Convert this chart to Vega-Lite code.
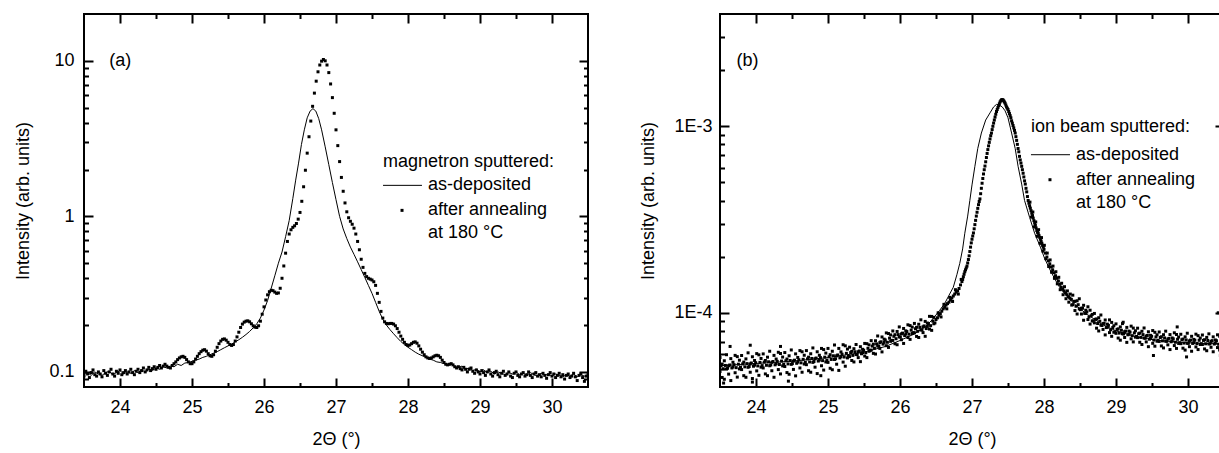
{
"$schema":"https://vega.github.io/schema/vega-lite/v6.json",
"background":"white",
"padding":{"left":13,"top":13,"right":0,"bottom":0},
"spacing":49,
"config":{
"font":"Liberation Sans",
"view":{"stroke":"black","strokeWidth":2},
"axis":{"domain":false,"labelFont":"Liberation Sans","labelFontSize":18,"labelColor":"black","titleFont":"Liberation Sans","titleFontSize":18,"titleFontWeight":"normal","titleColor":"black","zindex":1},
"text":{"font":"Liberation Sans","fontSize":18,"color":"black","align":"left","baseline":"middle"}
},
"datasets":{
"one":[{}],
"a":[
{"s":"L","x":23.5,"y":0.096},{"s":"L","x":23.55,"y":0.099},{"s":"L","x":23.6,"y":0.095},{"s":"L","x":23.65,"y":0.1},{"s":"L","x":23.7,"y":0.097},{"s":"L","x":23.75,"y":0.095},{"s":"L","x":23.8,"y":0.099},{"s":"L","x":23.85,"y":0.101},{"s":"L","x":23.9,"y":0.096},{"s":"L","x":23.95,"y":0.099},{"s":"L","x":24,"y":0.102},{"s":"L","x":24.05,"y":0.097},{"s":"L","x":24.1,"y":0.1},{"s":"L","x":24.15,"y":0.098},{"s":"L","x":24.2,"y":0.102},{"s":"L","x":24.25,"y":0.099},{"s":"L","x":24.3,"y":0.103},{"s":"L","x":24.35,"y":0.1},{"s":"L","x":24.4,"y":0.104},{"s":"L","x":24.45,"y":0.102},{"s":"L","x":24.5,"y":0.106},{"s":"L","x":24.55,"y":0.104},{"s":"L","x":24.6,"y":0.108},{"s":"L","x":24.65,"y":0.106},{"s":"L","x":24.7,"y":0.109},{"s":"L","x":24.75,"y":0.108},{"s":"L","x":24.8,"y":0.112},{"s":"L","x":24.85,"y":0.11},{"s":"L","x":24.9,"y":0.114},{"s":"L","x":24.95,"y":0.115},{"s":"L","x":25,"y":0.117},{"s":"L","x":25.05,"y":0.119},{"s":"L","x":25.1,"y":0.121},{"s":"L","x":25.15,"y":0.124},{"s":"L","x":25.2,"y":0.126},{"s":"L","x":25.25,"y":0.129},{"s":"L","x":25.3,"y":0.132},{"s":"L","x":25.35,"y":0.135},{"s":"L","x":25.4,"y":0.139},{"s":"L","x":25.45,"y":0.143},{"s":"L","x":25.5,"y":0.147},{"s":"L","x":25.55,"y":0.151},{"s":"L","x":25.6,"y":0.156},{"s":"L","x":25.65,"y":0.161},{"s":"L","x":25.7,"y":0.167},{"s":"L","x":25.75,"y":0.174},{"s":"L","x":25.8,"y":0.182},{"s":"L","x":25.85,"y":0.192},{"s":"L","x":25.9,"y":0.204},{"s":"L","x":25.95,"y":0.222},{"s":"L","x":26,"y":0.25},{"s":"L","x":26.05,"y":0.288},{"s":"L","x":26.1,"y":0.345},{"s":"L","x":26.15,"y":0.415},{"s":"L","x":26.2,"y":0.5},{"s":"L","x":26.25,"y":0.59},{"s":"L","x":26.3,"y":0.74},{"s":"L","x":26.35,"y":0.94},{"s":"L","x":26.4,"y":1.3},{"s":"L","x":26.44,"y":1.71},{"s":"L","x":26.48,"y":2.2},{"s":"L","x":26.52,"y":2.9},{"s":"L","x":26.56,"y":3.6},{"s":"L","x":26.6,"y":4.3},{"s":"L","x":26.64,"y":4.75},{"s":"L","x":26.68,"y":4.93},{"s":"L","x":26.72,"y":4.75},{"s":"L","x":26.76,"y":4.25},{"s":"L","x":26.8,"y":3.6},{"s":"L","x":26.85,"y":2.8},{"s":"L","x":26.9,"y":2.15},{"s":"L","x":26.95,"y":1.65},{"s":"L","x":27,"y":1.28},{"s":"L","x":27.05,"y":1.0},{"s":"L","x":27.1,"y":0.83},{"s":"L","x":27.15,"y":0.72},{"s":"L","x":27.2,"y":0.635},{"s":"L","x":27.25,"y":0.57},{"s":"L","x":27.3,"y":0.51},{"s":"L","x":27.35,"y":0.455},{"s":"L","x":27.4,"y":0.405},{"s":"L","x":27.45,"y":0.36},{"s":"L","x":27.5,"y":0.32},{"s":"L","x":27.55,"y":0.28},{"s":"L","x":27.6,"y":0.245},{"s":"L","x":27.65,"y":0.218},{"s":"L","x":27.7,"y":0.2},{"s":"L","x":27.75,"y":0.187},{"s":"L","x":27.8,"y":0.176},{"s":"L","x":27.85,"y":0.166},{"s":"L","x":27.9,"y":0.157},{"s":"L","x":27.95,"y":0.15},{"s":"L","x":28,"y":0.144},{"s":"L","x":28.05,"y":0.139},{"s":"L","x":28.1,"y":0.134},{"s":"L","x":28.15,"y":0.13},{"s":"L","x":28.2,"y":0.127},{"s":"L","x":28.25,"y":0.124},{"s":"L","x":28.3,"y":0.121},{"s":"L","x":28.35,"y":0.119},{"s":"L","x":28.4,"y":0.116},{"s":"L","x":28.45,"y":0.115},{"s":"L","x":28.5,"y":0.113},{"s":"L","x":28.55,"y":0.11},{"s":"L","x":28.6,"y":0.112},{"s":"L","x":28.65,"y":0.108},{"s":"L","x":28.7,"y":0.107},{"s":"L","x":28.75,"y":0.109},{"s":"L","x":28.8,"y":0.104},{"s":"L","x":28.85,"y":0.106},{"s":"L","x":28.9,"y":0.102},{"s":"L","x":28.95,"y":0.104},{"s":"L","x":29,"y":0.1},{"s":"L","x":29.05,"y":0.103},{"s":"L","x":29.1,"y":0.099},{"s":"L","x":29.15,"y":0.101},{"s":"L","x":29.2,"y":0.097},{"s":"L","x":29.25,"y":0.1},{"s":"L","x":29.3,"y":0.098},{"s":"L","x":29.35,"y":0.096},{"s":"L","x":29.4,"y":0.099},{"s":"L","x":29.45,"y":0.097},{"s":"L","x":29.5,"y":0.1},{"s":"L","x":29.55,"y":0.096},{"s":"L","x":29.6,"y":0.098},{"s":"L","x":29.65,"y":0.095},{"s":"L","x":29.7,"y":0.099},{"s":"L","x":29.75,"y":0.096},{"s":"L","x":29.8,"y":0.094},{"s":"L","x":29.85,"y":0.098},{"s":"L","x":29.9,"y":0.095},{"s":"L","x":29.95,"y":0.097},{"s":"L","x":30,"y":0.094},{"s":"L","x":30.05,"y":0.097},{"s":"L","x":30.1,"y":0.095},{"s":"L","x":30.15,"y":0.093},{"s":"L","x":30.2,"y":0.096},{"s":"L","x":30.25,"y":0.094},{"s":"L","x":30.3,"y":0.097},{"s":"L","x":30.35,"y":0.093},{"s":"L","x":30.4,"y":0.096},{"s":"L","x":30.45,"y":0.094},{"s":"L","x":30.5,"y":0.095},
{"s":"D","x":23.5,"y":0.094},{"s":"D","x":23.525,"y":0.101},{"s":"D","x":23.55,"y":0.097},{"s":"D","x":23.575,"y":0.092},{"s":"D","x":23.6,"y":0.099},{"s":"D","x":23.625,"y":0.103},{"s":"D","x":23.65,"y":0.096},{"s":"D","x":23.675,"y":0.094},{"s":"D","x":23.7,"y":0.1},{"s":"D","x":23.725,"y":0.097},{"s":"D","x":23.75,"y":0.093},{"s":"D","x":23.775,"y":0.102},{"s":"D","x":23.8,"y":0.098},{"s":"D","x":23.825,"y":0.095},{"s":"D","x":23.85,"y":0.1},{"s":"D","x":23.875,"y":0.104},{"s":"D","x":23.9,"y":0.097},{"s":"D","x":23.925,"y":0.094},{"s":"D","x":23.95,"y":0.101},{"s":"D","x":23.975,"y":0.098},{"s":"D","x":24,"y":0.103},{"s":"D","x":24.025,"y":0.096},{"s":"D","x":24.05,"y":0.099},{"s":"D","x":24.075,"y":0.102},{"s":"D","x":24.1,"y":0.097},{"s":"D","x":24.125,"y":0.1},{"s":"D","x":24.15,"y":0.104},{"s":"D","x":24.175,"y":0.099},{"s":"D","x":24.2,"y":0.096},{"s":"D","x":24.225,"y":0.101},{"s":"D","x":24.25,"y":0.104},{"s":"D","x":24.275,"y":0.099},{"s":"D","x":24.3,"y":0.102},{"s":"D","x":24.325,"y":0.106},{"s":"D","x":24.35,"y":0.1},{"s":"D","x":24.375,"y":0.103},{"s":"D","x":24.4,"y":0.107},{"s":"D","x":24.425,"y":0.102},{"s":"D","x":24.45,"y":0.105},{"s":"D","x":24.475,"y":0.108},{"s":"D","x":24.5,"y":0.104},{"s":"D","x":24.525,"y":0.107},{"s":"D","x":24.55,"y":0.11},{"s":"D","x":24.575,"y":0.106},{"s":"D","x":24.6,"y":0.109},{"s":"D","x":24.625,"y":0.112},{"s":"D","x":24.65,"y":0.109},{"s":"D","x":24.675,"y":0.107},{"s":"D","x":24.7,"y":0.106},{"s":"D","x":24.725,"y":0.11},{"s":"D","x":24.75,"y":0.113},{"s":"D","x":24.775,"y":0.116},{"s":"D","x":24.8,"y":0.12},{"s":"D","x":24.825,"y":0.123},{"s":"D","x":24.85,"y":0.125},{"s":"D","x":24.875,"y":0.126},{"s":"D","x":24.9,"y":0.124},{"s":"D","x":24.925,"y":0.12},{"s":"D","x":24.95,"y":0.116},{"s":"D","x":24.975,"y":0.113},{"s":"D","x":25,"y":0.113},{"s":"D","x":25.025,"y":0.116},{"s":"D","x":25.05,"y":0.121},{"s":"D","x":25.075,"y":0.126},{"s":"D","x":25.1,"y":0.131},{"s":"D","x":25.125,"y":0.135},{"s":"D","x":25.15,"y":0.138},{"s":"D","x":25.175,"y":0.139},{"s":"D","x":25.2,"y":0.136},{"s":"D","x":25.225,"y":0.131},{"s":"D","x":25.25,"y":0.127},{"s":"D","x":25.275,"y":0.126},{"s":"D","x":25.3,"y":0.129},{"s":"D","x":25.325,"y":0.136},{"s":"D","x":25.35,"y":0.144},{"s":"D","x":25.375,"y":0.152},{"s":"D","x":25.4,"y":0.158},{"s":"D","x":25.425,"y":0.162},{"s":"D","x":25.45,"y":0.163},{"s":"D","x":25.475,"y":0.16},{"s":"D","x":25.5,"y":0.155},{"s":"D","x":25.525,"y":0.15},{"s":"D","x":25.55,"y":0.148},{"s":"D","x":25.575,"y":0.15},{"s":"D","x":25.6,"y":0.158},{"s":"D","x":25.625,"y":0.168},{"s":"D","x":25.65,"y":0.18},{"s":"D","x":25.675,"y":0.193},{"s":"D","x":25.7,"y":0.203},{"s":"D","x":25.725,"y":0.209},{"s":"D","x":25.75,"y":0.212},{"s":"D","x":25.775,"y":0.213},{"s":"D","x":25.8,"y":0.21},{"s":"D","x":25.825,"y":0.204},{"s":"D","x":25.85,"y":0.198},{"s":"D","x":25.875,"y":0.194},{"s":"D","x":25.9,"y":0.193},{"s":"D","x":25.925,"y":0.198},{"s":"D","x":25.95,"y":0.212},{"s":"D","x":25.975,"y":0.235},{"s":"D","x":26,"y":0.262},{"s":"D","x":26.025,"y":0.29},{"s":"D","x":26.05,"y":0.313},{"s":"D","x":26.075,"y":0.328},{"s":"D","x":26.1,"y":0.335},{"s":"D","x":26.125,"y":0.333},{"s":"D","x":26.15,"y":0.326},{"s":"D","x":26.175,"y":0.32},{"s":"D","x":26.2,"y":0.322},{"s":"D","x":26.225,"y":0.345},{"s":"D","x":26.25,"y":0.4},{"s":"D","x":26.275,"y":0.48},{"s":"D","x":26.3,"y":0.58},{"s":"D","x":26.325,"y":0.69},{"s":"D","x":26.35,"y":0.77},{"s":"D","x":26.375,"y":0.82},{"s":"D","x":26.4,"y":0.85},{"s":"D","x":26.425,"y":0.87},{"s":"D","x":26.45,"y":0.9},{"s":"D","x":26.475,"y":0.96},{"s":"D","x":26.5,"y":1.06},{"s":"D","x":26.525,"y":1.25},{"s":"D","x":26.55,"y":1.55},{"s":"D","x":26.575,"y":1.98},{"s":"D","x":26.6,"y":2.55},{"s":"D","x":26.625,"y":3.25},{"s":"D","x":26.65,"y":4.1},{"s":"D","x":26.675,"y":5.1},{"s":"D","x":26.7,"y":6.2},{"s":"D","x":26.725,"y":7.4},{"s":"D","x":26.75,"y":8.5},{"s":"D","x":26.775,"y":9.4},{"s":"D","x":26.8,"y":9.95},{"s":"D","x":26.825,"y":10.2},{"s":"D","x":26.85,"y":10.0},{"s":"D","x":26.875,"y":9.4},{"s":"D","x":26.9,"y":8.4},{"s":"D","x":26.925,"y":7.1},{"s":"D","x":26.95,"y":5.8},{"s":"D","x":26.975,"y":4.6},{"s":"D","x":27,"y":3.6},{"s":"D","x":27.025,"y":2.85},{"s":"D","x":27.05,"y":2.25},{"s":"D","x":27.075,"y":1.78},{"s":"D","x":27.1,"y":1.45},{"s":"D","x":27.125,"y":1.22},{"s":"D","x":27.15,"y":1.07},{"s":"D","x":27.175,"y":0.98},{"s":"D","x":27.2,"y":0.93},{"s":"D","x":27.225,"y":0.89},{"s":"D","x":27.25,"y":0.84},{"s":"D","x":27.275,"y":0.77},{"s":"D","x":27.3,"y":0.69},{"s":"D","x":27.325,"y":0.61},{"s":"D","x":27.35,"y":0.53},{"s":"D","x":27.375,"y":0.47},{"s":"D","x":27.4,"y":0.43},{"s":"D","x":27.425,"y":0.41},{"s":"D","x":27.45,"y":0.4},{"s":"D","x":27.475,"y":0.395},{"s":"D","x":27.5,"y":0.39},{"s":"D","x":27.525,"y":0.38},{"s":"D","x":27.55,"y":0.36},{"s":"D","x":27.575,"y":0.32},{"s":"D","x":27.6,"y":0.28},{"s":"D","x":27.625,"y":0.245},{"s":"D","x":27.65,"y":0.222},{"s":"D","x":27.675,"y":0.21},{"s":"D","x":27.7,"y":0.205},{"s":"D","x":27.725,"y":0.204},{"s":"D","x":27.75,"y":0.205},{"s":"D","x":27.775,"y":0.205},{"s":"D","x":27.8,"y":0.203},{"s":"D","x":27.825,"y":0.198},{"s":"D","x":27.85,"y":0.19},{"s":"D","x":27.875,"y":0.18},{"s":"D","x":27.9,"y":0.17},{"s":"D","x":27.925,"y":0.162},{"s":"D","x":27.95,"y":0.155},{"s":"D","x":27.975,"y":0.15},{"s":"D","x":28,"y":0.148},{"s":"D","x":28.025,"y":0.149},{"s":"D","x":28.05,"y":0.152},{"s":"D","x":28.075,"y":0.155},{"s":"D","x":28.1,"y":0.156},{"s":"D","x":28.125,"y":0.153},{"s":"D","x":28.15,"y":0.147},{"s":"D","x":28.175,"y":0.14},{"s":"D","x":28.2,"y":0.134},{"s":"D","x":28.225,"y":0.129},{"s":"D","x":28.25,"y":0.125},{"s":"D","x":28.275,"y":0.123},{"s":"D","x":28.3,"y":0.122},{"s":"D","x":28.325,"y":0.123},{"s":"D","x":28.35,"y":0.125},{"s":"D","x":28.375,"y":0.127},{"s":"D","x":28.4,"y":0.128},{"s":"D","x":28.425,"y":0.127},{"s":"D","x":28.45,"y":0.124},{"s":"D","x":28.475,"y":0.119},{"s":"D","x":28.5,"y":0.115},{"s":"D","x":28.525,"y":0.112},{"s":"D","x":28.55,"y":0.111},{"s":"D","x":28.575,"y":0.112},{"s":"D","x":28.6,"y":0.113},{"s":"D","x":28.625,"y":0.111},{"s":"D","x":28.65,"y":0.108},{"s":"D","x":28.675,"y":0.106},{"s":"D","x":28.7,"y":0.108},{"s":"D","x":28.725,"y":0.105},{"s":"D","x":28.75,"y":0.103},{"s":"D","x":28.775,"y":0.107},{"s":"D","x":28.8,"y":0.104},{"s":"D","x":28.825,"y":0.1},{"s":"D","x":28.85,"y":0.104},{"s":"D","x":28.875,"y":0.106},{"s":"D","x":28.9,"y":0.101},{"s":"D","x":28.925,"y":0.098},{"s":"D","x":28.95,"y":0.103},{"s":"D","x":28.975,"y":0.1},{"s":"D","x":29,"y":0.097},{"s":"D","x":29.025,"y":0.102},{"s":"D","x":29.05,"y":0.099},{"s":"D","x":29.075,"y":0.095},{"s":"D","x":29.1,"y":0.1},{"s":"D","x":29.125,"y":0.103},{"s":"D","x":29.15,"y":0.097},{"s":"D","x":29.175,"y":0.094},{"s":"D","x":29.2,"y":0.099},{"s":"D","x":29.225,"y":0.101},{"s":"D","x":29.25,"y":0.096},{"s":"D","x":29.275,"y":0.093},{"s":"D","x":29.3,"y":0.098},{"s":"D","x":29.325,"y":0.101},{"s":"D","x":29.35,"y":0.095},{"s":"D","x":29.375,"y":0.097},{"s":"D","x":29.4,"y":0.1},{"s":"D","x":29.425,"y":0.094},{"s":"D","x":29.45,"y":0.092},{"s":"D","x":29.475,"y":0.098},{"s":"D","x":29.5,"y":0.1},{"s":"D","x":29.525,"y":0.095},{"s":"D","x":29.55,"y":0.093},{"s":"D","x":29.575,"y":0.097},{"s":"D","x":29.6,"y":0.099},{"s":"D","x":29.625,"y":0.094},{"s":"D","x":29.65,"y":0.096},{"s":"D","x":29.675,"y":0.1},{"s":"D","x":29.7,"y":0.095},{"s":"D","x":29.725,"y":0.092},{"s":"D","x":29.75,"y":0.097},{"s":"D","x":29.775,"y":0.099},{"s":"D","x":29.8,"y":0.094},{"s":"D","x":29.825,"y":0.096},{"s":"D","x":29.85,"y":0.093},{"s":"D","x":29.875,"y":0.098},{"s":"D","x":29.9,"y":0.095},{"s":"D","x":29.925,"y":0.091},{"s":"D","x":29.95,"y":0.096},{"s":"D","x":29.975,"y":0.099},{"s":"D","x":30,"y":0.094},{"s":"D","x":30.025,"y":0.097},{"s":"D","x":30.05,"y":0.092},{"s":"D","x":30.075,"y":0.095},{"s":"D","x":30.1,"y":0.098},{"s":"D","x":30.125,"y":0.093},{"s":"D","x":30.15,"y":0.096},{"s":"D","x":30.175,"y":0.09},{"s":"D","x":30.2,"y":0.095},{"s":"D","x":30.225,"y":0.097},{"s":"D","x":30.25,"y":0.092},{"s":"D","x":30.275,"y":0.094},{"s":"D","x":30.3,"y":0.098},{"s":"D","x":30.325,"y":0.093},{"s":"D","x":30.35,"y":0.088},{"s":"D","x":30.375,"y":0.095},{"s":"D","x":30.4,"y":0.097},{"s":"D","x":30.425,"y":0.092},{"s":"D","x":30.45,"y":0.087},{"s":"D","x":30.475,"y":0.094},{"s":"D","x":30.5,"y":0.096}
],
"b":[
{"s":"L","x":23.5,"y":5.2e-5},{"s":"L","x":24,"y":5.35e-5},{"s":"L","x":24.5,"y":5.5e-5},{"s":"L","x":25,"y":5.75e-5},{"s":"L","x":25.5,"y":6.15e-5},{"s":"L","x":25.8,"y":6.6e-5},{"s":"L","x":26,"y":7.1e-5},{"s":"L","x":26.2,"y":7.7e-5},{"s":"L","x":26.35,"y":8.4e-5},{"s":"L","x":26.45,"y":9.2e-5},{"s":"L","x":26.55,"y":1.03e-4},{"s":"L","x":26.62,"y":1.12e-4},{"s":"L","x":26.68,"y":1.24e-4},{"s":"L","x":26.74,"y":1.37e-4},{"s":"L","x":26.79,"y":1.6e-4},{"s":"L","x":26.83,"y":1.84e-4},{"s":"L","x":26.87,"y":2.2e-4},{"s":"L","x":26.9,"y":2.67e-4},{"s":"L","x":26.94,"y":3.3e-4},{"s":"L","x":26.97,"y":4.0e-4},{"s":"L","x":27,"y":4.85e-4},{"s":"L","x":27.04,"y":6.1e-4},{"s":"L","x":27.08,"y":7.6e-4},{"s":"L","x":27.13,"y":9.2e-4},{"s":"L","x":27.19,"y":1.08e-3},{"s":"L","x":27.25,"y":1.18e-3},{"s":"L","x":27.3,"y":1.27e-3},{"s":"L","x":27.34,"y":1.31e-3},{"s":"L","x":27.38,"y":1.3e-3},{"s":"L","x":27.42,"y":1.27e-3},{"s":"L","x":27.46,"y":1.21e-3},{"s":"L","x":27.5,"y":1.11e-3},{"s":"L","x":27.55,"y":9.2e-4},{"s":"L","x":27.6,"y":7.6e-4},{"s":"L","x":27.64,"y":6.1e-4},{"s":"L","x":27.69,"y":4.9e-4},{"s":"L","x":27.73,"y":4.0e-4},{"s":"L","x":27.8,"y":3.25e-4},{"s":"L","x":27.87,"y":2.67e-4},{"s":"L","x":27.95,"y":2.25e-4},{"s":"L","x":28.01,"y":1.95e-4},{"s":"L","x":28.1,"y":1.65e-4},{"s":"L","x":28.2,"y":1.4e-4},{"s":"L","x":28.32,"y":1.22e-4},{"s":"L","x":28.45,"y":1.09e-4},{"s":"L","x":28.6,"y":9.8e-5},{"s":"L","x":28.8,"y":8.7e-5},{"s":"L","x":29,"y":8.0e-5},{"s":"L","x":29.3,"y":7.4e-5},{"s":"L","x":29.6,"y":7.1e-5},{"s":"L","x":30,"y":6.9e-5},{"s":"L","x":30.5,"y":6.8e-5},
{"s":"D","x":23.5,"y":5.76e-5},{"s":"D","x":23.5,"y":4.85e-5},{"s":"D","x":23.53,"y":4.5e-5},{"s":"D","x":23.53,"y":5.31e-5},{"s":"D","x":23.56,"y":5.53e-5},{"s":"D","x":23.56,"y":4.4e-5},{"s":"D","x":23.59,"y":4.99e-5},{"s":"D","x":23.59,"y":5.96e-5},{"s":"D","x":23.62,"y":5.2e-5},{"s":"D","x":23.62,"y":4.69e-5},{"s":"D","x":23.65,"y":4.33e-5},{"s":"D","x":23.65,"y":5.68e-5},{"s":"D","x":23.68,"y":5.43e-5},{"s":"D","x":23.68,"y":5.12e-5},{"s":"D","x":23.71,"y":4.77e-5},{"s":"D","x":23.71,"y":5.91e-5},{"s":"D","x":23.74,"y":5.82e-5},{"s":"D","x":23.74,"y":4.52e-5},{"s":"D","x":23.77,"y":5.0e-5},{"s":"D","x":23.77,"y":5.57e-5},{"s":"D","x":23.8,"y":5.9e-5},{"s":"D","x":23.8,"y":4.96e-5},{"s":"D","x":23.83,"y":4.6e-5},{"s":"D","x":23.83,"y":5.44e-5},{"s":"D","x":23.86,"y":5.66e-5},{"s":"D","x":23.86,"y":4.51e-5},{"s":"D","x":23.89,"y":5.1e-5},{"s":"D","x":23.89,"y":6.1e-5},{"s":"D","x":23.92,"y":5.32e-5},{"s":"D","x":23.92,"y":4.8e-5},{"s":"D","x":23.95,"y":4.44e-5},{"s":"D","x":23.95,"y":5.81e-5},{"s":"D","x":23.98,"y":5.55e-5},{"s":"D","x":23.98,"y":5.24e-5},{"s":"D","x":24.01,"y":4.88e-5},{"s":"D","x":24.01,"y":6.04e-5},{"s":"D","x":24.04,"y":5.95e-5},{"s":"D","x":24.04,"y":4.62e-5},{"s":"D","x":24.07,"y":5.11e-5},{"s":"D","x":24.07,"y":5.69e-5},{"s":"D","x":24.1,"y":6.02e-5},{"s":"D","x":24.1,"y":5.06e-5},{"s":"D","x":24.13,"y":4.7e-5},{"s":"D","x":24.13,"y":5.55e-5},{"s":"D","x":24.16,"y":5.78e-5},{"s":"D","x":24.16,"y":4.6e-5},{"s":"D","x":24.19,"y":5.2e-5},{"s":"D","x":24.19,"y":6.22e-5},{"s":"D","x":24.22,"y":5.42e-5},{"s":"D","x":24.22,"y":4.89e-5},{"s":"D","x":24.25,"y":4.51e-5},{"s":"D","x":24.25,"y":5.91e-5},{"s":"D","x":24.28,"y":5.65e-5},{"s":"D","x":24.28,"y":5.33e-5},{"s":"D","x":24.31,"y":4.96e-5},{"s":"D","x":24.31,"y":6.14e-5},{"s":"D","x":24.34,"y":6.05e-5},{"s":"D","x":24.34,"y":4.7e-5},{"s":"D","x":24.37,"y":5.19e-5},{"s":"D","x":24.37,"y":5.79e-5},{"s":"D","x":24.4,"y":6.12e-5},{"s":"D","x":24.4,"y":5.15e-5},{"s":"D","x":24.43,"y":4.78e-5},{"s":"D","x":24.43,"y":5.65e-5},{"s":"D","x":24.46,"y":5.88e-5},{"s":"D","x":24.46,"y":4.68e-5},{"s":"D","x":24.49,"y":5.29e-5},{"s":"D","x":24.49,"y":6.32e-5},{"s":"D","x":24.52,"y":5.51e-5},{"s":"D","x":24.52,"y":4.97e-5},{"s":"D","x":24.55,"y":4.59e-5},{"s":"D","x":24.55,"y":6.02e-5},{"s":"D","x":24.58,"y":5.76e-5},{"s":"D","x":24.58,"y":5.44e-5},{"s":"D","x":24.61,"y":5.06e-5},{"s":"D","x":24.61,"y":6.27e-5},{"s":"D","x":24.64,"y":6.18e-5},{"s":"D","x":24.64,"y":4.8e-5},{"s":"D","x":24.67,"y":5.31e-5},{"s":"D","x":24.67,"y":5.92e-5},{"s":"D","x":24.7,"y":6.27e-5},{"s":"D","x":24.7,"y":5.27e-5},{"s":"D","x":24.73,"y":4.89e-5},{"s":"D","x":24.73,"y":5.78e-5},{"s":"D","x":24.76,"y":6.03e-5},{"s":"D","x":24.76,"y":4.8e-5},{"s":"D","x":24.79,"y":5.42e-5},{"s":"D","x":24.79,"y":6.48e-5},{"s":"D","x":24.82,"y":5.67e-5},{"s":"D","x":24.82,"y":5.11e-5},{"s":"D","x":24.85,"y":4.72e-5},{"s":"D","x":24.85,"y":6.18e-5},{"s":"D","x":24.88,"y":5.92e-5},{"s":"D","x":24.88,"y":5.58e-5},{"s":"D","x":24.91,"y":5.2e-5},{"s":"D","x":24.91,"y":6.44e-5},{"s":"D","x":24.94,"y":6.35e-5},{"s":"D","x":24.94,"y":4.93e-5},{"s":"D","x":24.97,"y":5.45e-5},{"s":"D","x":24.97,"y":6.08e-5},{"s":"D","x":25,"y":6.44e-5},{"s":"D","x":25,"y":5.42e-5},{"s":"D","x":25.03,"y":5.04e-5},{"s":"D","x":25.03,"y":5.96e-5},{"s":"D","x":25.06,"y":6.22e-5},{"s":"D","x":25.06,"y":4.95e-5},{"s":"D","x":25.09,"y":5.62e-5},{"s":"D","x":25.09,"y":6.72e-5},{"s":"D","x":25.12,"y":5.88e-5},{"s":"D","x":25.12,"y":5.3e-5},{"s":"D","x":25.15,"y":4.91e-5},{"s":"D","x":25.15,"y":6.44e-5},{"s":"D","x":25.18,"y":6.17e-5},{"s":"D","x":25.18,"y":5.82e-5},{"s":"D","x":25.21,"y":5.44e-5},{"s":"D","x":25.21,"y":6.74e-5},{"s":"D","x":25.24,"y":6.65e-5},{"s":"D","x":25.24,"y":5.17e-5},{"s":"D","x":25.27,"y":5.73e-5},{"s":"D","x":25.27,"y":6.39e-5},{"s":"D","x":25.3,"y":6.54e-5},{"s":"D","x":25.3,"y":5.82e-5},{"s":"D","x":25.33,"y":5.55e-5},{"s":"D","x":25.33,"y":6.21e-5},{"s":"D","x":25.36,"y":6.42e-5},{"s":"D","x":25.36,"y":5.45e-5},{"s":"D","x":25.39,"y":5.97e-5},{"s":"D","x":25.39,"y":6.76e-5},{"s":"D","x":25.42,"y":6.18e-5},{"s":"D","x":25.42,"y":5.75e-5},{"s":"D","x":25.45,"y":5.47e-5},{"s":"D","x":25.45,"y":6.58e-5},{"s":"D","x":25.48,"y":6.37e-5},{"s":"D","x":25.48,"y":6.12e-5},{"s":"D","x":25.51,"y":5.86e-5},{"s":"D","x":25.51,"y":6.85e-5},{"s":"D","x":25.54,"y":6.83e-5},{"s":"D","x":25.54,"y":5.75e-5},{"s":"D","x":25.57,"y":6.22e-5},{"s":"D","x":25.57,"y":6.73e-5},{"s":"D","x":25.6,"y":7.09e-5},{"s":"D","x":25.6,"y":6.31e-5},{"s":"D","x":25.63,"y":6.06e-5},{"s":"D","x":25.63,"y":6.79e-5},{"s":"D","x":25.66,"y":7.08e-5},{"s":"D","x":25.66,"y":6.01e-5},{"s":"D","x":25.69,"y":6.63e-5},{"s":"D","x":25.69,"y":7.51e-5},{"s":"D","x":25.72,"y":6.92e-5},{"s":"D","x":25.72,"y":6.44e-5},{"s":"D","x":25.75,"y":6.17e-5},{"s":"D","x":25.75,"y":7.42e-5},{"s":"D","x":25.78,"y":7.22e-5},{"s":"D","x":25.78,"y":6.94e-5},{"s":"D","x":25.81,"y":6.66e-5},{"s":"D","x":25.81,"y":7.8e-5},{"s":"D","x":25.84,"y":7.74e-5},{"s":"D","x":25.84,"y":6.52e-5},{"s":"D","x":25.87,"y":7.03e-5},{"s":"D","x":25.87,"y":7.61e-5},{"s":"D","x":25.9,"y":7.99e-5},{"s":"D","x":25.9,"y":7.11e-5},{"s":"D","x":25.93,"y":6.82e-5},{"s":"D","x":25.93,"y":7.63e-5},{"s":"D","x":25.96,"y":7.94e-5},{"s":"D","x":25.96,"y":6.74e-5},{"s":"D","x":25.99,"y":7.42e-5},{"s":"D","x":25.99,"y":8.4e-5},{"s":"D","x":26.02,"y":7.71e-5},{"s":"D","x":26.02,"y":7.17e-5},{"s":"D","x":26.05,"y":6.85e-5},{"s":"D","x":26.05,"y":8.24e-5},{"s":"D","x":26.08,"y":8.0e-5},{"s":"D","x":26.08,"y":7.69e-5},{"s":"D","x":26.11,"y":7.37e-5},{"s":"D","x":26.11,"y":8.62e-5},{"s":"D","x":26.14,"y":8.54e-5},{"s":"D","x":26.14,"y":7.2e-5},{"s":"D","x":26.17,"y":7.74e-5},{"s":"D","x":26.17,"y":8.38e-5},{"s":"D","x":26.2,"y":8.77e-5},{"s":"D","x":26.2,"y":7.81e-5},{"s":"D","x":26.23,"y":7.47e-5},{"s":"D","x":26.23,"y":8.36e-5},{"s":"D","x":26.26,"y":8.68e-5},{"s":"D","x":26.26,"y":7.37e-5},{"s":"D","x":26.29,"y":8.09e-5},{"s":"D","x":26.29,"y":9.17e-5},{"s":"D","x":26.32,"y":8.41e-5},{"s":"D","x":26.32,"y":7.83e-5},{"s":"D","x":26.35,"y":7.48e-5},{"s":"D","x":26.35,"y":8.99e-5},{"s":"D","x":26.38,"y":8.81e-5},{"s":"D","x":26.38,"y":8.46e-5},{"s":"D","x":26.41,"y":8.18e-5},{"s":"D","x":26.41,"y":9.57e-5},{"s":"D","x":26.44,"y":9.56e-5},{"s":"D","x":26.44,"y":8.05e-5},{"s":"D","x":26.47,"y":8.73e-5},{"s":"D","x":26.47,"y":9.45e-5},
{"s":"D","x":23.515,"y":5.2e-5},{"s":"D","x":23.545,"y":5.01e-5},{"s":"D","x":23.575,"y":5.22e-5},{"s":"D","x":23.605,"y":5.04e-5},{"s":"D","x":23.635,"y":5.25e-5},{"s":"D","x":23.665,"y":5.06e-5},{"s":"D","x":23.695,"y":5.27e-5},{"s":"D","x":23.725,"y":5.08e-5},{"s":"D","x":23.755,"y":5.3e-5},{"s":"D","x":23.785,"y":5.11e-5},{"s":"D","x":23.815,"y":5.32e-5},{"s":"D","x":23.845,"y":5.13e-5},{"s":"D","x":23.875,"y":5.34e-5},{"s":"D","x":23.905,"y":5.15e-5},{"s":"D","x":23.935,"y":5.38e-5},{"s":"D","x":23.965,"y":5.17e-5},{"s":"D","x":23.995,"y":5.4e-5},{"s":"D","x":24.025,"y":5.19e-5},{"s":"D","x":24.055,"y":5.42e-5},{"s":"D","x":24.085,"y":5.21e-5},{"s":"D","x":24.115,"y":5.44e-5},{"s":"D","x":24.145,"y":5.23e-5},{"s":"D","x":24.175,"y":5.46e-5},{"s":"D","x":24.205,"y":5.25e-5},{"s":"D","x":24.235,"y":5.48e-5},{"s":"D","x":24.265,"y":5.26e-5},{"s":"D","x":24.295,"y":5.49e-5},{"s":"D","x":24.325,"y":5.28e-5},{"s":"D","x":24.355,"y":5.51e-5},{"s":"D","x":24.385,"y":5.3e-5},{"s":"D","x":24.415,"y":5.53e-5},{"s":"D","x":24.445,"y":5.32e-5},{"s":"D","x":24.475,"y":5.55e-5},{"s":"D","x":24.505,"y":5.34e-5},{"s":"D","x":24.535,"y":5.57e-5},{"s":"D","x":24.565,"y":5.36e-5},{"s":"D","x":24.595,"y":5.6e-5},{"s":"D","x":24.625,"y":5.39e-5},{"s":"D","x":24.655,"y":5.63e-5},{"s":"D","x":24.685,"y":5.42e-5},{"s":"D","x":24.715,"y":5.66e-5},{"s":"D","x":24.745,"y":5.45e-5},{"s":"D","x":24.775,"y":5.69e-5},{"s":"D","x":24.805,"y":5.48e-5},{"s":"D","x":24.835,"y":5.72e-5},{"s":"D","x":24.865,"y":5.51e-5},{"s":"D","x":24.895,"y":5.75e-5},{"s":"D","x":24.925,"y":5.54e-5},{"s":"D","x":24.955,"y":5.78e-5},{"s":"D","x":24.985,"y":5.57e-5},{"s":"D","x":25.015,"y":5.81e-5},{"s":"D","x":25.045,"y":5.62e-5},{"s":"D","x":25.075,"y":5.88e-5},{"s":"D","x":25.105,"y":5.67e-5},{"s":"D","x":25.135,"y":5.94e-5},{"s":"D","x":25.165,"y":5.73e-5},{"s":"D","x":25.195,"y":6.0e-5},{"s":"D","x":25.225,"y":5.79e-5},{"s":"D","x":25.255,"y":6.06e-5},{"s":"D","x":25.285,"y":5.85e-5},{"s":"D","x":25.315,"y":6.12e-5},{"s":"D","x":25.345,"y":5.91e-5},{"s":"D","x":25.375,"y":6.18e-5},{"s":"D","x":25.405,"y":5.97e-5},{"s":"D","x":25.435,"y":6.24e-5},{"s":"D","x":25.465,"y":6.03e-5},{"s":"D","x":25.495,"y":6.3e-5},{"s":"D","x":25.525,"y":6.11e-5},{"s":"D","x":25.555,"y":6.45e-5},{"s":"D","x":25.585,"y":6.28e-5},{"s":"D","x":25.615,"y":6.63e-5},{"s":"D","x":25.645,"y":6.46e-5},{"s":"D","x":25.675,"y":6.81e-5},{"s":"D","x":25.705,"y":6.63e-5},{"s":"D","x":25.735,"y":6.99e-5},{"s":"D","x":25.765,"y":6.79e-5},{"s":"D","x":25.795,"y":7.15e-5},{"s":"D","x":25.825,"y":6.95e-5},{"s":"D","x":25.855,"y":7.31e-5},{"s":"D","x":25.885,"y":7.11e-5},{"s":"D","x":25.915,"y":7.48e-5},{"s":"D","x":25.945,"y":7.26e-5},{"s":"D","x":25.975,"y":7.64e-5},{"s":"D","x":26.005,"y":7.42e-5},{"s":"D","x":26.035,"y":7.78e-5},{"s":"D","x":26.065,"y":7.55e-5},{"s":"D","x":26.095,"y":7.93e-5},{"s":"D","x":26.125,"y":7.68e-5},{"s":"D","x":26.155,"y":8.07e-5},{"s":"D","x":26.185,"y":7.82e-5},{"s":"D","x":26.215,"y":8.21e-5},{"s":"D","x":26.245,"y":7.96e-5},{"s":"D","x":26.275,"y":8.35e-5},{"s":"D","x":26.305,"y":8.09e-5},{"s":"D","x":26.335,"y":8.5e-5},{"s":"D","x":26.365,"y":8.23e-5},{"s":"D","x":26.395,"y":8.72e-5},{"s":"D","x":26.425,"y":8.53e-5},{"s":"D","x":26.455,"y":9.03e-5},{"s":"D","x":26.485,"y":8.82e-5},
{"s":"D","x":23.64,"y":6.6e-5},{"s":"D","x":23.92,"y":6.7e-5},{"s":"D","x":24.34,"y":6.6e-5},{"s":"D","x":23.55,"y":4.2e-5},{"s":"D","x":24.45,"y":4.3e-5},{"s":"D","x":23.95,"y":4.25e-5},{"s":"D","x":24.9,"y":4.6e-5},
{"s":"D","x":26.5,"y":9.2e-5},{"s":"D","x":26.52,"y":9.4e-5},{"s":"D","x":26.54,"y":9.7e-5},{"s":"D","x":26.56,"y":9.9e-5},{"s":"D","x":26.58,"y":1.02e-4},{"s":"D","x":26.6,"y":1.05e-4},{"s":"D","x":26.62,"y":1.07e-4},{"s":"D","x":26.64,"y":1.1e-4},{"s":"D","x":26.66,"y":1.12e-4},{"s":"D","x":26.68,"y":1.14e-4},{"s":"D","x":26.7,"y":1.17e-4},{"s":"D","x":26.72,"y":1.2e-4},{"s":"D","x":26.74,"y":1.23e-4},{"s":"D","x":26.76,"y":1.26e-4},{"s":"D","x":26.78,"y":1.29e-4},{"s":"D","x":26.8,"y":1.31e-4},{"s":"D","x":26.82,"y":1.35e-4},{"s":"D","x":26.84,"y":1.41e-4},{"s":"D","x":26.86,"y":1.47e-4},{"s":"D","x":26.87,"y":1.51e-4},{"s":"D","x":26.88,"y":1.56e-4},{"s":"D","x":26.89,"y":1.61e-4},{"s":"D","x":26.9,"y":1.66e-4},{"s":"D","x":26.91,"y":1.7e-4},{"s":"D","x":26.92,"y":1.74e-4},{"s":"D","x":26.93,"y":1.78e-4},{"s":"D","x":26.94,"y":1.85e-4},{"s":"D","x":26.95,"y":1.93e-4},{"s":"D","x":26.96,"y":2.02e-4},{"s":"D","x":26.97,"y":2.13e-4},{"s":"D","x":26.98,"y":2.25e-4},{"s":"D","x":26.99,"y":2.37e-4},{"s":"D","x":27,"y":2.48e-4},{"s":"D","x":27.01,"y":2.58e-4},{"s":"D","x":27.02,"y":2.68e-4},{"s":"D","x":27.03,"y":2.82e-4},{"s":"D","x":27.04,"y":2.97e-4},{"s":"D","x":27.05,"y":3.13e-4},{"s":"D","x":27.06,"y":3.3e-4},{"s":"D","x":27.07,"y":3.46e-4},{"s":"D","x":27.08,"y":3.63e-4},{"s":"D","x":27.09,"y":3.8e-4},{"s":"D","x":27.1,"y":3.95e-4},{"s":"D","x":27.11,"y":4.08e-4},{"s":"D","x":27.12,"y":4.35e-4},{"s":"D","x":27.13,"y":4.65e-4},{"s":"D","x":27.14,"y":4.95e-4},{"s":"D","x":27.15,"y":5.25e-4},{"s":"D","x":27.16,"y":5.55e-4},{"s":"D","x":27.17,"y":5.85e-4},{"s":"D","x":27.18,"y":6.12e-4},{"s":"D","x":27.19,"y":6.45e-4},{"s":"D","x":27.2,"y":6.8e-4},{"s":"D","x":27.21,"y":7.15e-4},{"s":"D","x":27.22,"y":7.5e-4},{"s":"D","x":27.23,"y":7.85e-4},{"s":"D","x":27.24,"y":8.2e-4},{"s":"D","x":27.25,"y":8.55e-4},{"s":"D","x":27.26,"y":8.9e-4},{"s":"D","x":27.27,"y":9.2e-4},{"s":"D","x":27.28,"y":9.6e-4},{"s":"D","x":27.29,"y":1.0e-3},{"s":"D","x":27.3,"y":1.04e-3},{"s":"D","x":27.31,"y":1.08e-3},{"s":"D","x":27.32,"y":1.12e-3},{"s":"D","x":27.33,"y":1.16e-3},{"s":"D","x":27.34,"y":1.2e-3},{"s":"D","x":27.35,"y":1.23e-3},{"s":"D","x":27.36,"y":1.26e-3},{"s":"D","x":27.37,"y":1.29e-3},{"s":"D","x":27.38,"y":1.32e-3},{"s":"D","x":27.39,"y":1.35e-3},{"s":"D","x":27.4,"y":1.37e-3},{"s":"D","x":27.41,"y":1.385e-3},{"s":"D","x":27.42,"y":1.39e-3},{"s":"D","x":27.43,"y":1.385e-3},{"s":"D","x":27.44,"y":1.37e-3},{"s":"D","x":27.45,"y":1.35e-3},{"s":"D","x":27.46,"y":1.33e-3},{"s":"D","x":27.47,"y":1.3e-3},{"s":"D","x":27.48,"y":1.27e-3},{"s":"D","x":27.49,"y":1.25e-3},{"s":"D","x":27.5,"y":1.23e-3},{"s":"D","x":27.51,"y":1.2e-3},{"s":"D","x":27.52,"y":1.17e-3},{"s":"D","x":27.53,"y":1.14e-3},{"s":"D","x":27.54,"y":1.11e-3},{"s":"D","x":27.55,"y":1.07e-3},{"s":"D","x":27.56,"y":1.04e-3},{"s":"D","x":27.57,"y":1.01e-3},{"s":"D","x":27.58,"y":9.8e-4},{"s":"D","x":27.59,"y":9.5e-4},{"s":"D","x":27.6,"y":9.2e-4},{"s":"D","x":27.61,"y":8.8e-4},{"s":"D","x":27.62,"y":8.4e-4},{"s":"D","x":27.63,"y":8.0e-4},{"s":"D","x":27.64,"y":7.6e-4},{"s":"D","x":27.65,"y":7.3e-4},{"s":"D","x":27.66,"y":6.9e-4},{"s":"D","x":27.67,"y":6.6e-4},{"s":"D","x":27.68,"y":6.35e-4},{"s":"D","x":27.69,"y":6.1e-4},{"s":"D","x":27.7,"y":5.85e-4},{"s":"D","x":27.71,"y":5.6e-4},{"s":"D","x":27.72,"y":5.35e-4},{"s":"D","x":27.73,"y":5.1e-4},{"s":"D","x":27.74,"y":4.9e-4},{"s":"D","x":27.75,"y":4.65e-4},{"s":"D","x":27.76,"y":4.45e-4},{"s":"D","x":27.77,"y":4.2e-4},{"s":"D","x":27.78,"y":4.0e-4},{"s":"D","x":27.79,"y":3.87e-4},{"s":"D","x":27.8,"y":3.75e-4},{"s":"D","x":27.81,"y":3.64e-4},{"s":"D","x":27.82,"y":3.53e-4},{"s":"D","x":27.83,"y":3.42e-4},{"s":"D","x":27.84,"y":3.32e-4},{"s":"D","x":27.85,"y":3.22e-4},{"s":"D","x":27.86,"y":3.12e-4},{"s":"D","x":27.87,"y":3.03e-4},{"s":"D","x":27.88,"y":2.94e-4},{"s":"D","x":27.89,"y":2.85e-4},{"s":"D","x":27.9,"y":2.76e-4},{"s":"D","x":27.91,"y":2.7e-4},{"s":"D","x":27.92,"y":2.67e-4},{"s":"D","x":27.93,"y":2.6e-4},{"s":"D","x":27.94,"y":2.54e-4},{"s":"D","x":27.95,"y":2.48e-4},{"s":"D","x":27.96,"y":2.42e-4},{"s":"D","x":27.97,"y":2.36e-4},{"s":"D","x":27.98,"y":2.3e-4},{"s":"D","x":27.99,"y":2.25e-4},{"s":"D","x":28,"y":2.19e-4},{"s":"D","x":28.02,"y":2.09e-4},{"s":"D","x":28.04,"y":1.99e-4},{"s":"D","x":28.06,"y":1.9e-4},{"s":"D","x":28.08,"y":1.83e-4},{"s":"D","x":28.1,"y":1.76e-4},{"s":"D","x":28.12,"y":1.7e-4},{"s":"D","x":28.14,"y":1.64e-4},{"s":"D","x":28.16,"y":1.58e-4},{"s":"D","x":28.18,"y":1.53e-4},{"s":"D","x":28.2,"y":1.48e-4},{"s":"D","x":28.22,"y":1.42e-4},{"s":"D","x":28.24,"y":1.37e-4},{"s":"D","x":28.26,"y":1.34e-4},{"s":"D","x":28.28,"y":1.31e-4},{"s":"D","x":28.3,"y":1.28e-4},{"s":"D","x":28.32,"y":1.25e-4},{"s":"D","x":28.34,"y":1.22e-4},{"s":"D","x":28.36,"y":1.2e-4},{"s":"D","x":28.38,"y":1.18e-4},
{"s":"D","x":27.805,"y":3.92e-4},{"s":"D","x":27.825,"y":3.26e-4},{"s":"D","x":27.845,"y":3.47e-4},{"s":"D","x":27.865,"y":2.89e-4},{"s":"D","x":27.885,"y":3.07e-4},{"s":"D","x":27.905,"y":2.57e-4},{"s":"D","x":27.925,"y":2.79e-4},{"s":"D","x":27.945,"y":2.36e-4},{"s":"D","x":27.965,"y":2.53e-4},{"s":"D","x":27.985,"y":2.14e-4},{"s":"D","x":28.005,"y":2.3e-4},{"s":"D","x":28.025,"y":1.95e-4},{"s":"D","x":28.045,"y":2.09e-4},{"s":"D","x":28.065,"y":1.77e-4},{"s":"D","x":28.085,"y":1.92e-4},{"s":"D","x":28.105,"y":1.65e-4},{"s":"D","x":28.125,"y":1.78e-4},{"s":"D","x":28.145,"y":1.53e-4},{"s":"D","x":28.165,"y":1.66e-4},{"s":"D","x":28.185,"y":1.43e-4},{"s":"D","x":28.205,"y":1.55e-4},{"s":"D","x":28.225,"y":1.33e-4},{"s":"D","x":28.245,"y":1.44e-4},{"s":"D","x":28.265,"y":1.25e-4},{"s":"D","x":28.285,"y":1.38e-4},{"s":"D","x":28.305,"y":1.19e-4},{"s":"D","x":28.325,"y":1.31e-4},{"s":"D","x":28.345,"y":1.14e-4},{"s":"D","x":28.365,"y":1.26e-4},{"s":"D","x":28.385,"y":1.1e-4},
{"s":"D","x":26.53,"y":1.0e-4},{"s":"D","x":26.57,"y":9.5e-5},{"s":"D","x":26.61,"y":1.11e-4},{"s":"D","x":26.65,"y":1.05e-4},{"s":"D","x":26.69,"y":1.21e-4},{"s":"D","x":26.73,"y":1.15e-4},{"s":"D","x":26.77,"y":1.33e-4},{"s":"D","x":26.81,"y":1.26e-4},{"s":"D","x":26.85,"y":1.51e-4},
{"s":"D","x":28.4,"y":1.243e-4},{"s":"D","x":28.4,"y":1.106e-4},{"s":"D","x":28.43,"y":1.028e-4},{"s":"D","x":28.43,"y":1.151e-4},{"s":"D","x":28.46,"y":1.16e-4},{"s":"D","x":28.46,"y":9.85e-5},{"s":"D","x":28.49,"y":1.05e-4},{"s":"D","x":28.49,"y":1.189e-4},{"s":"D","x":28.52,"y":1.058e-4},{"s":"D","x":28.52,"y":9.85e-5},{"s":"D","x":28.55,"y":9.12e-5},{"s":"D","x":28.55,"y":1.097e-4},{"s":"D","x":28.58,"y":1.032e-4},{"s":"D","x":28.58,"y":9.92e-5},{"s":"D","x":28.61,"y":9.2e-5},{"s":"D","x":28.61,"y":1.077e-4},{"s":"D","x":28.64,"y":1.032e-4},{"s":"D","x":28.64,"y":8.7e-5},{"s":"D","x":28.67,"y":9.05e-5},{"s":"D","x":28.67,"y":9.8e-5},{"s":"D","x":28.7,"y":9.92e-5},{"s":"D","x":28.7,"y":8.83e-5},{"s":"D","x":28.73,"y":8.27e-5},{"s":"D","x":28.73,"y":9.26e-5},{"s":"D","x":28.76,"y":9.41e-5},{"s":"D","x":28.76,"y":7.99e-5},{"s":"D","x":28.79,"y":8.59e-5},{"s":"D","x":28.79,"y":9.73e-5},{"s":"D","x":28.82,"y":8.75e-5},{"s":"D","x":28.82,"y":8.14e-5},{"s":"D","x":28.85,"y":7.61e-5},{"s":"D","x":28.85,"y":9.15e-5},{"s":"D","x":28.88,"y":8.69e-5},{"s":"D","x":28.88,"y":8.36e-5},{"s":"D","x":28.91,"y":7.83e-5},{"s":"D","x":28.91,"y":9.16e-5},{"s":"D","x":28.94,"y":8.88e-5},{"s":"D","x":28.94,"y":7.48e-5},{"s":"D","x":28.97,"y":7.87e-5},{"s":"D","x":28.97,"y":8.52e-5},{"s":"D","x":29,"y":8.72e-5},{"s":"D","x":29,"y":7.76e-5},{"s":"D","x":29.03,"y":7.32e-5},{"s":"D","x":29.03,"y":8.2e-5},{"s":"D","x":29.06,"y":8.4e-5},{"s":"D","x":29.06,"y":7.13e-5},{"s":"D","x":29.09,"y":7.72e-5},{"s":"D","x":29.09,"y":8.75e-5},{"s":"D","x":29.12,"y":7.92e-5},{"s":"D","x":29.12,"y":7.37e-5},{"s":"D","x":29.15,"y":6.94e-5},{"s":"D","x":29.15,"y":8.35e-5},{"s":"D","x":29.18,"y":7.98e-5},{"s":"D","x":29.18,"y":7.67e-5},{"s":"D","x":29.21,"y":7.25e-5},{"s":"D","x":29.21,"y":8.48e-5},{"s":"D","x":29.24,"y":8.28e-5},{"s":"D","x":29.24,"y":6.98e-5},{"s":"D","x":29.27,"y":7.4e-5},{"s":"D","x":29.27,"y":8.01e-5},{"s":"D","x":29.3,"y":8.27e-5},{"s":"D","x":29.3,"y":7.36e-5},{"s":"D","x":29.33,"y":6.95e-5},{"s":"D","x":29.33,"y":7.78e-5},{"s":"D","x":29.36,"y":7.96e-5},{"s":"D","x":29.36,"y":6.76e-5},{"s":"D","x":29.39,"y":7.32e-5},{"s":"D","x":29.39,"y":8.29e-5},{"s":"D","x":29.42,"y":7.5e-5},{"s":"D","x":29.42,"y":6.98e-5},{"s":"D","x":29.45,"y":6.58e-5},{"s":"D","x":29.45,"y":7.91e-5},{"s":"D","x":29.48,"y":7.57e-5},{"s":"D","x":29.48,"y":7.28e-5},{"s":"D","x":29.51,"y":6.86e-5},{"s":"D","x":29.51,"y":8.03e-5},{"s":"D","x":29.54,"y":7.86e-5},{"s":"D","x":29.54,"y":6.62e-5},{"s":"D","x":29.57,"y":7.04e-5},{"s":"D","x":29.57,"y":7.62e-5},{"s":"D","x":29.6,"y":7.89e-5},{"s":"D","x":29.6,"y":7.02e-5},{"s":"D","x":29.63,"y":6.64e-5},{"s":"D","x":29.63,"y":7.44e-5},{"s":"D","x":29.66,"y":7.63e-5},{"s":"D","x":29.66,"y":6.48e-5},{"s":"D","x":29.69,"y":7.04e-5},{"s":"D","x":29.69,"y":7.97e-5},{"s":"D","x":29.72,"y":7.23e-5},{"s":"D","x":29.72,"y":6.73e-5},{"s":"D","x":29.75,"y":6.35e-5},{"s":"D","x":29.75,"y":7.64e-5},{"s":"D","x":29.78,"y":7.33e-5},{"s":"D","x":29.78,"y":7.05e-5},{"s":"D","x":29.81,"y":6.67e-5},{"s":"D","x":29.81,"y":7.81e-5},{"s":"D","x":29.84,"y":7.65e-5},{"s":"D","x":29.84,"y":6.44e-5},{"s":"D","x":29.87,"y":6.85e-5},{"s":"D","x":29.87,"y":7.41e-5},{"s":"D","x":29.9,"y":7.67e-5},{"s":"D","x":29.9,"y":6.83e-5},{"s":"D","x":29.93,"y":6.46e-5},{"s":"D","x":29.93,"y":7.23e-5},{"s":"D","x":29.96,"y":7.43e-5},{"s":"D","x":29.96,"y":6.31e-5},{"s":"D","x":29.99,"y":6.86e-5},{"s":"D","x":29.99,"y":7.77e-5},{"s":"D","x":30.02,"y":7.07e-5},{"s":"D","x":30.02,"y":6.58e-5},{"s":"D","x":30.05,"y":6.22e-5},{"s":"D","x":30.05,"y":7.48e-5},{"s":"D","x":30.08,"y":7.2e-5},{"s":"D","x":30.08,"y":6.92e-5},{"s":"D","x":30.11,"y":6.56e-5},{"s":"D","x":30.11,"y":7.68e-5},{"s":"D","x":30.14,"y":7.54e-5},{"s":"D","x":30.14,"y":6.35e-5},{"s":"D","x":30.17,"y":6.76e-5},{"s":"D","x":30.17,"y":7.32e-5},{"s":"D","x":30.2,"y":7.6e-5},{"s":"D","x":30.2,"y":6.76e-5},{"s":"D","x":30.23,"y":6.4e-5},{"s":"D","x":30.23,"y":7.17e-5},{"s":"D","x":30.26,"y":7.38e-5},{"s":"D","x":30.26,"y":6.26e-5},{"s":"D","x":30.29,"y":6.81e-5},{"s":"D","x":30.29,"y":7.71e-5},{"s":"D","x":30.32,"y":7.02e-5},{"s":"D","x":30.32,"y":6.53e-5},{"s":"D","x":30.35,"y":6.18e-5},{"s":"D","x":30.35,"y":7.43e-5},{"s":"D","x":30.38,"y":7.15e-5},{"s":"D","x":30.38,"y":6.87e-5},{"s":"D","x":30.41,"y":6.51e-5},{"s":"D","x":30.41,"y":7.62e-5},{"s":"D","x":30.44,"y":7.48e-5},{"s":"D","x":30.44,"y":6.31e-5},{"s":"D","x":30.47,"y":6.71e-5},{"s":"D","x":30.47,"y":7.27e-5},{"s":"D","x":30.5,"y":7.54e-5},{"s":"D","x":30.5,"y":6.71e-5},
{"s":"D","x":28.415,"y":1.152e-4},{"s":"D","x":28.445,"y":1.084e-4},{"s":"D","x":28.475,"y":1.105e-4},{"s":"D","x":28.505,"y":1.039e-4},{"s":"D","x":28.535,"y":1.058e-4},{"s":"D","x":28.565,"y":9.94e-5},{"s":"D","x":28.595,"y":1.011e-4},{"s":"D","x":28.625,"y":9.49e-5},{"s":"D","x":28.655,"y":9.64e-5},{"s":"D","x":28.685,"y":9.04e-5},{"s":"D","x":28.715,"y":9.23e-5},{"s":"D","x":28.745,"y":8.76e-5},{"s":"D","x":28.775,"y":9.01e-5},{"s":"D","x":28.805,"y":8.55e-5},{"s":"D","x":28.835,"y":8.78e-5},{"s":"D","x":28.865,"y":8.33e-5},{"s":"D","x":28.895,"y":8.56e-5},{"s":"D","x":28.925,"y":8.11e-5},{"s":"D","x":28.955,"y":8.33e-5},{"s":"D","x":28.985,"y":7.9e-5},{"s":"D","x":29.015,"y":8.14e-5},{"s":"D","x":29.045,"y":7.78e-5},{"s":"D","x":29.075,"y":8.06e-5},{"s":"D","x":29.105,"y":7.7e-5},{"s":"D","x":29.135,"y":7.98e-5},{"s":"D","x":29.165,"y":7.62e-5},{"s":"D","x":29.195,"y":7.88e-5},{"s":"D","x":29.225,"y":7.54e-5},{"s":"D","x":29.255,"y":7.8e-5},{"s":"D","x":29.285,"y":7.46e-5},{"s":"D","x":29.315,"y":7.72e-5},{"s":"D","x":29.345,"y":7.38e-5},{"s":"D","x":29.375,"y":7.64e-5},{"s":"D","x":29.405,"y":7.3e-5},{"s":"D","x":29.435,"y":7.56e-5},{"s":"D","x":29.465,"y":7.22e-5},{"s":"D","x":29.495,"y":7.48e-5},{"s":"D","x":29.525,"y":7.14e-5},{"s":"D","x":29.555,"y":7.42e-5},{"s":"D","x":29.585,"y":7.11e-5},{"s":"D","x":29.615,"y":7.37e-5},{"s":"D","x":29.645,"y":7.07e-5},{"s":"D","x":29.675,"y":7.33e-5},{"s":"D","x":29.705,"y":7.03e-5},{"s":"D","x":29.735,"y":7.29e-5},{"s":"D","x":29.765,"y":6.99e-5},{"s":"D","x":29.795,"y":7.25e-5},{"s":"D","x":29.825,"y":6.95e-5},{"s":"D","x":29.855,"y":7.21e-5},{"s":"D","x":29.885,"y":6.91e-5},{"s":"D","x":29.915,"y":7.17e-5},{"s":"D","x":29.945,"y":6.88e-5},{"s":"D","x":29.975,"y":7.15e-5},{"s":"D","x":30.005,"y":6.86e-5},{"s":"D","x":30.035,"y":7.14e-5},{"s":"D","x":30.065,"y":6.85e-5},{"s":"D","x":30.095,"y":7.13e-5},{"s":"D","x":30.125,"y":6.84e-5},{"s":"D","x":30.155,"y":7.12e-5},{"s":"D","x":30.185,"y":6.83e-5},{"s":"D","x":30.215,"y":7.11e-5},{"s":"D","x":30.245,"y":6.82e-5},{"s":"D","x":30.275,"y":7.1e-5},{"s":"D","x":30.305,"y":6.81e-5},{"s":"D","x":30.335,"y":7.09e-5},{"s":"D","x":30.365,"y":6.8e-5},{"s":"D","x":30.395,"y":7.08e-5},{"s":"D","x":30.425,"y":6.79e-5},{"s":"D","x":30.455,"y":7.07e-5},{"s":"D","x":30.485,"y":6.78e-5},
{"s":"D","x":29.52,"y":5.9e-5},{"s":"D","x":29.98,"y":5.8e-5},{"s":"D","x":30.45,"y":5.9e-5},{"s":"D","x":30.42,"y":1.0e-4},{"s":"D","x":29.1,"y":8.9e-5},{"s":"D","x":29.85,"y":8.4e-5}
]
},
"hconcat":[
{
"width":504,"height":373,
"layer":[
{"data":{"name":"a"},"transform":[{"filter":"datum.s == 'L'"}],
"mark":{"type":"line","color":"black","strokeWidth":1,"clip":true},
"encoding":{
"x":{"field":"x","type":"quantitative","scale":{"domain":[23.5,30.5],"nice":false,"zero":false},"axis":{"orient":"bottom","title":"2Θ (°)","values":[24,25,26,27,28,29,30],"format":"d","ticks":false,"tickSize":0,"grid":true,"gridColor":"black","gridWidth":2,"gridDash":[9,355,9,0],"labelPadding":11,"titlePadding":14}},
"y":{"field":"y","type":"quantitative","scale":{"type":"log","domain":[0.08,20],"nice":false},"axis":{"orient":"left","title":"Intensity (arb. units)","values":[0.1,1,10],"format":"~g","ticks":false,"tickSize":0,"grid":true,"gridColor":"black","gridWidth":2,"gridDash":[9,486,9,0],"labelPadding":10,"titlePadding":16}}
}},
{"data":{"name":"a"},"transform":[{"filter":"datum.s == 'D'"}],
"mark":{"type":"point","filled":true,"shape":"square","size":9,"color":"black","opacity":1,"clip":true},
"encoding":{
"x":{"field":"x","type":"quantitative","scale":{"domain":[23.5,30.5],"nice":false,"zero":false},"axis":{"orient":"bottom","title":null,"labels":false,"values":[24.5,25.5,26.5,27.5,28.5,29.5],"ticks":false,"tickSize":0,"grid":true,"gridColor":"black","gridWidth":2,"gridDash":[4.5,364,4.5,0]}},
"y":{"field":"y","type":"quantitative","scale":{"type":"log","domain":[0.08,20],"nice":false},"axis":{"orient":"left","title":null,"labels":false,"values":[0.09,0.2,0.3,0.4,0.5,0.6,0.7,0.8,0.9,2,3,4,5,6,7,8,9],"ticks":false,"tickSize":0,"grid":true,"gridColor":"black","gridWidth":2,"gridDash":[4.5,495,4.5,0]}}
}},
{"data":{"name":"one"},"mark":{"type":"text"},"encoding":{"x":{"datum":23.85,"type":"quantitative","axis":null},"y":{"datum":10,"type":"quantitative","axis":null},"text":{"value":"(a)"}}},
{"data":{"name":"one"},"mark":{"type":"text"},"encoding":{"x":{"datum":27.653,"type":"quantitative","axis":null},"y":{"datum":2.234,"type":"quantitative","axis":null},"text":{"value":"magnetron sputtered:"}}},
{"data":{"name":"one"},"mark":{"type":"text"},"encoding":{"x":{"datum":28.278,"type":"quantitative","axis":null},"y":{"datum":1.583,"type":"quantitative","axis":null},"text":{"value":"as-deposited"}}},
{"data":{"name":"one"},"mark":{"type":"text"},"encoding":{"x":{"datum":28.278,"type":"quantitative","axis":null},"y":{"datum":1.093,"type":"quantitative","axis":null},"text":{"value":"after annealing"}}},
{"data":{"name":"one"},"mark":{"type":"text"},"encoding":{"x":{"datum":28.278,"type":"quantitative","axis":null},"y":{"datum":0.778,"type":"quantitative","axis":null},"text":{"value":"at 180 °C"}}},
{"data":{"name":"one"},"mark":{"type":"rule","color":"black","strokeWidth":1},"encoding":{"x":{"datum":27.653,"type":"quantitative","axis":null},"x2":{"datum":28.194},"y":{"datum":1.583,"type":"quantitative","axis":null}}},
{"data":{"name":"one"},"mark":{"type":"point","filled":true,"shape":"square","size":9,"color":"black","opacity":1},"encoding":{"x":{"datum":27.917,"type":"quantitative","axis":null},"y":{"datum":1.093,"type":"quantitative","axis":null}}}
],
"resolve":{"axis":{"x":"independent","y":"independent"}}
},
{
"width":504,"height":373,
"layer":[
{"data":{"name":"b"},"transform":[{"filter":"datum.s == 'L'"}],
"mark":{"type":"line","color":"black","strokeWidth":1,"clip":true},
"encoding":{
"x":{"field":"x","type":"quantitative","scale":{"domain":[23.5,30.5],"nice":false,"zero":false},"axis":{"orient":"bottom","title":"2Θ (°)","values":[24,25,26,27,28,29,30],"format":"d","ticks":false,"tickSize":0,"grid":true,"gridColor":"black","gridWidth":2,"gridDash":[9,355,9,0],"labelPadding":11,"titlePadding":14}},
"y":{"field":"y","type":"quantitative","scale":{"type":"log","domain":[4e-5,4e-3],"nice":false},"axis":{"orient":"left","title":"Intensity (arb. units)","values":[1e-4,1e-3],"labelExpr":"'1E' + round(log(datum.value)/LN10)","ticks":false,"tickSize":0,"grid":true,"gridColor":"black","gridWidth":2,"gridDash":[9,486,9,0],"labelPadding":8,"titlePadding":16}}
}},
{"data":{"name":"b"},"transform":[{"filter":"datum.s == 'D'"}],
"mark":{"type":"point","filled":true,"shape":"square","size":9,"color":"black","opacity":1,"clip":true},
"encoding":{
"x":{"field":"x","type":"quantitative","scale":{"domain":[23.5,30.5],"nice":false,"zero":false},"axis":{"orient":"bottom","title":null,"labels":false,"values":[24.5,25.5,26.5,27.5,28.5,29.5],"ticks":false,"tickSize":0,"grid":true,"gridColor":"black","gridWidth":2,"gridDash":[4.5,364,4.5,0]}},
"y":{"field":"y","type":"quantitative","scale":{"type":"log","domain":[4e-5,4e-3],"nice":false},"axis":{"orient":"left","title":null,"labels":false,"values":[5e-5,6e-5,7e-5,8e-5,9e-5,2e-4,3e-4,4e-4,5e-4,6e-4,7e-4,8e-4,9e-4,2e-3,3e-3],"ticks":false,"tickSize":0,"grid":true,"gridColor":"black","gridWidth":2,"gridDash":[4.5,495,4.5,0]}}
}},
{"data":{"name":"one"},"mark":{"type":"text"},"encoding":{"x":{"datum":23.73,"type":"quantitative","axis":null},"y":{"datum":0.00224,"type":"quantitative","axis":null},"text":{"value":"(b)"}}},
{"data":{"name":"one"},"mark":{"type":"text"},"encoding":{"x":{"datum":27.819,"type":"quantitative","axis":null},"y":{"datum":0.000996,"type":"quantitative","axis":null},"text":{"value":"ion beam sputtered:"}}},
{"data":{"name":"one"},"mark":{"type":"text"},"encoding":{"x":{"datum":28.444,"type":"quantitative","axis":null},"y":{"datum":0.000704,"type":"quantitative","axis":null},"text":{"value":"as-deposited"}}},
{"data":{"name":"one"},"mark":{"type":"text"},"encoding":{"x":{"datum":28.444,"type":"quantitative","axis":null},"y":{"datum":0.000517,"type":"quantitative","axis":null},"text":{"value":"after annealing"}}},
{"data":{"name":"one"},"mark":{"type":"text"},"encoding":{"x":{"datum":28.444,"type":"quantitative","axis":null},"y":{"datum":0.000388,"type":"quantitative","axis":null},"text":{"value":"at 180 °C"}}},
{"data":{"name":"one"},"mark":{"type":"rule","color":"black","strokeWidth":1},"encoding":{"x":{"datum":27.819,"type":"quantitative","axis":null},"x2":{"datum":28.361},"y":{"datum":0.000704,"type":"quantitative","axis":null}}},
{"data":{"name":"one"},"mark":{"type":"point","filled":true,"shape":"square","size":9,"color":"black","opacity":1},"encoding":{"x":{"datum":28.083,"type":"quantitative","axis":null},"y":{"datum":0.000517,"type":"quantitative","axis":null}}}
],
"resolve":{"axis":{"x":"independent","y":"independent"}}
}
]
}
